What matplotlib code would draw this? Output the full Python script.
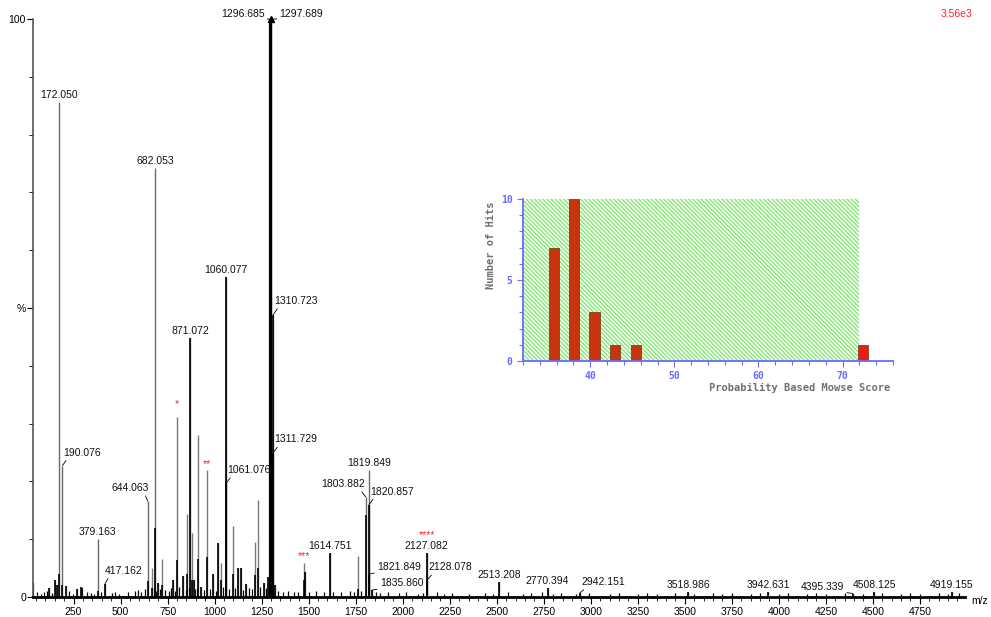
import matplotlib
matplotlib.use("Agg")
import matplotlib.pyplot as plt
from matplotlib.patches import Rectangle
from matplotlib.ticker import MultipleLocator, FixedLocator

plt.rcParams['font.family'] = ['Liberation Sans', 'DejaVu Sans']
plt.rcParams['hatch.linewidth'] = 1.2

# ---------------- spectrum data (m/z, relative intensity %) ----------------
label_mz = [172.050, 190.076, 379.163, 417.162, 644.063, 682.053, 871.072,
            1060.077, 1061.076, 1296.685, 1297.689, 1310.723, 1311.729,
            1614.751, 1803.882, 1819.849, 1820.857, 1821.849, 1835.860,
            2127.082, 2128.078, 2513.208, 2770.394, 2942.151, 3518.986,
            3942.631, 4395.339, 4508.125, 4919.155]
label_int = [85.6, 22.7, 10.0, 2.3, 16.6, 74.2, 44.8,
             55.3, 19.7, 100.0, 100.0, 48.8, 25.0,
             7.6, 17.3, 22.0, 16.0, 4.0, 1.2,
             7.6, 2.9, 2.6, 1.6, 0.7, 0.8,
             0.8, 0.6, 0.8, 0.8]
# intensity of the dark (dominant-trace) part of each labelled peak
label_core = [4.0, 2.0, 1.0, 2.3, 2.8, 12.0, 44.8,
              55.3, 19.7, 100.0, 100.0, 48.8, 25.0,
              7.6, 14.2, 3.0, 16.0, 4.0, 1.2,
              7.6, 2.9, 2.6, 1.6, 0.7, 0.8,
              0.8, 0.6, 0.8, 0.8]

other_mz = [36, 120, 149, 160, 208, 266, 287, 294, 666, 700, 721, 780, 799,
            833, 854, 877, 889, 911, 930, 959, 992, 1020, 1033, 1095, 1125,
            1139, 1169, 1214, 1229, 1263, 1285, 1320, 1474, 1481, 1761]
other_int = [2.4, 1.5, 2.9, 2.0, 1.9, 1.4, 1.7, 1.6, 5.0, 2.5, 6.5, 3.0, 31.1,
             3.6, 14.4, 11.0, 2.9, 28.0, 1.8, 22.0, 4.0, 9.3, 5.8, 12.3, 5.0,
             5.0, 2.3, 9.5, 16.7, 2.5, 3.5, 2.0, 5.9, 4.4, 7.1]
other_core = [2.4, 1.5, 2.9, 2.0, 1.9, 1.4, 1.7, 1.6, 1.5, 2.5, 2.0, 3.0, 6.4,
              3.6, 4.0, 3.0, 2.9, 6.5, 1.8, 7.0, 4.0, 9.3, 3.0, 4.0, 5.0,
              5.0, 2.3, 3.8, 5.0, 2.5, 3.5, 2.0, 3.0, 4.4, 1.4]

# low-level baseline peaks
noise = [(55, 0.8), (78, 0.6), (95, 0.9), (110, 1.0), (133, 0.7), (228, 1.0),
         (245, 0.6), (320, 0.8), (345, 0.7), (360, 0.6), (395, 0.9), (455, 0.7),
         (470, 0.9), (490, 0.6), (540, 0.8), (575, 1.0), (590, 1.2), (610, 0.9),
         (630, 1.3), (675, 1.6), (690, 1.1), (710, 1.4), (735, 1.2), (755, 1.0),
         (770, 1.5), (790, 1.1), (810, 1.8), (845, 1.2), (862, 1.5), (898, 1.3),
         (905, 1.6), (945, 1.2), (975, 1.4), (1005, 1.1), (1045, 1.7), (1075, 1.3),
         (1110, 1.5), (1150, 1.2), (1180, 1.6), (1200, 1.4), (1240, 1.8), (1272, 1.5),
         (1335, 1.1), (1365, 0.9), (1390, 1.0), (1420, 0.8), (1445, 0.9), (1500, 0.8),
         (1540, 1.0), (1580, 0.9), (1630, 0.8), (1670, 0.9), (1720, 1.0), (1740, 0.8),
         (1780, 1.1), (1860, 0.9), (1880, 0.7), (1920, 0.8), (1980, 0.7), (2020, 0.8),
         (2080, 0.6), (2110, 0.7), (2180, 0.8), (2220, 0.6), (2260, 0.7), (2350, 0.6),
         (2440, 0.7), (2480, 0.6), (2560, 0.8), (2640, 0.6), (2680, 0.7), (2740, 0.8),
         (2800, 0.6), (2840, 0.7), (2920, 0.6), (2990, 0.7), (3100, 0.6), (3150, 0.7),
         (3250, 0.6), (3300, 0.7), (3350, 0.6), (3450, 0.7), (3550, 0.6), (3650, 0.7),
         (3700, 0.6), (3750, 0.7), (3850, 0.6), (3900, 0.7), (4000, 0.6), (4050, 0.7),
         (4150, 0.6), (4200, 0.7), (4250, 0.6), (4350, 0.7), (4450, 0.6), (4550, 0.7),
         (4650, 0.6), (4700, 0.7), (4750, 0.6), (4850, 0.7), (4900, 0.6), (4960, 0.7)]

# starred peaks (m/z, label)
star_mz = [799, 959, 1474, 2127.082]
star_txt = ['*', '**', '***', '****']

x_ticks = [250, 500, 750, 1000, 1250, 1500, 1750, 2000, 2250, 2500, 2750,
           3000, 3250, 3500, 3750, 4000, 4250, 4500, 4750]

# ---------------- score histogram data ----------------
score_bins = [35.7, 38.1, 40.5, 42.9, 45.4, 72.4]
hits = [7, 10, 3, 1, 1, 1]
score_ticks = [40, 50, 60, 70]
hit_ticks = [0, 5, 10]

# ---------------- figure ----------------
W, H = 991, 617
fig = plt.figure(figsize=(W / 100, H / 100), dpi=100)
ax = fig.add_axes([33 / W, 20 / H, (965 - 33) / W, 578 / H])
ax.set_xlim(34, 4990)
ax.set_ylim(0, 100)

for s in ('top', 'right'):
    ax.spines[s].set_visible(False)
ax.spines['left'].set_color('#555555')
ax.spines['left'].set_linewidth(1.2)
ax.spines['bottom'].set_linewidth(2.0)

noise_mz = [p[0] for p in noise]
noise_h = [p[1] for p in noise]
ax.vlines(noise_mz, 0, noise_h, color='black', lw=0.9)

# full peaks in grey, dominant trace in black
ax.vlines(other_mz, 0, other_int, color='#7a7a7a', lw=1.0)
ax.vlines(label_mz, 0, label_int, color='#6a6a6a', lw=1.0)
ax.vlines(other_mz, 0, other_core, color='black', lw=1.2)
ax.vlines(label_mz, 0, label_core, color='black', lw=1.2)
# base peak drawn heavier with apex marker
ax.vlines([label_mz[9], label_mz[10]], 0, [label_int[9], label_int[10]], color='black', lw=1.6)
ax.plot([label_mz[9] + 0.5], [label_int[9]], marker='^', ms=5, color='black', clip_on=False)

# peak labels: (ha, dx px, dy px, leader)
label_style = {
    172.050: ('center', 0, 2, False),
    190.076: ('left', 1, 8, True),
    379.163: ('center', 0, 2, False),
    417.162: ('left', 0, 8, True),
    644.063: ('right', 1, 8, True),
    682.053: ('center', 0, 2, False),
    871.072: ('center', 0, 2, False),
    1060.077: ('center', 0, 2, False),
    1061.076: ('left', 1, 8, True),
    1296.685: ('right', -6, 0, True),
    1297.689: ('left', 9, 0, True),
    1310.723: ('left', 1, 9, True),
    1311.729: ('left', 1, 8, True),
    1614.751: ('center', 0, 2, False),
    1803.882: ('right', -1, 8, True),
    1819.849: ('center', 0, 2, False),
    1820.857: ('left', 1, 8, True),
    1821.849: ('left', 8, 2, True),
    1835.860: ('left', 8, 2, True),
    2127.082: ('center', 0, 2, False),
    2128.078: ('left', 2, 8, True),
    2513.208: ('center', 0, 2, False),
    2770.394: ('center', 0, 2, False),
    2942.151: ('left', 2, 6, True),
    3518.986: ('center', 0, 2, False),
    3942.631: ('center', 0, 2, False),
    4395.339: ('right', -9, 2, True),
    4508.125: ('center', 0, 2, False),
    4919.155: ('center', 0, 2, False),
}

for mz, inten in zip(label_mz, label_int):
    ha, dx, dy, leader = label_style[mz]
    kw = {}
    if leader:
        rx = {'left': 0.12, 'right': 0.88, 'center': 0.5}[ha]
        kw['arrowprops'] = dict(arrowstyle='-', lw=0.6, color='black',
                                shrinkA=0, shrinkB=0, relpos=(rx, 0.0))
    ax.annotate(f'{mz:.3f}', xy=(mz, inten), xytext=(dx, dy),
                textcoords='offset pixels', ha=ha, va='bottom', fontsize=7.5,
                color='#111111', annotation_clip=False, **kw)

star_dy = {799: 8, 959: 1, 1474: 2, 2127.082: 13}
all_mz = label_mz + other_mz
all_int = label_int + other_int
for mz, txt in zip(star_mz, star_txt):
    h = all_int[all_mz.index(mz)]
    ax.annotate(txt, xy=(mz, h), xytext=(0, star_dy[mz]), textcoords='offset pixels',
                ha='center', va='bottom', fontsize=7.5, color='#ff2020',
                annotation_clip=False)

# axes ticks
ax.xaxis.set_major_locator(FixedLocator(x_ticks))
ax.xaxis.set_minor_locator(MultipleLocator(50))
ax.tick_params(axis='x', which='major', length=5, width=0.8, labelsize=7.5, pad=2)
ax.tick_params(axis='x', which='minor', length=3, width=0.6)
ax.yaxis.set_major_locator(FixedLocator([0, 50, 100]))
ax.yaxis.set_minor_locator(MultipleLocator(10))
ax.set_yticklabels(['0', '%', '100'])
ax.tick_params(axis='y', which='major', length=4, width=0.8, labelsize=7.5, pad=1)
ax.tick_params(axis='y', which='minor', length=3, width=0.6)

fig.text(971 / W, 1 - 601 / H, 'm/z', ha='left', va='center', fontsize=7.5)
fig.text(957 / W, 1 - 14 / H, '3.56e3', ha='center', va='center', fontsize=7.5, color='#ff2020')

# ---------------- score histogram inset ----------------
blue = '#6b6bff'
ins = fig.add_axes([523 / W, 256 / H, 370 / W, 162 / H])
ins.set_xlim(32, 76)
ins.set_ylim(0, 10)
ins.set_facecolor('none')
ins.add_patch(Rectangle((32, 0), 40, 10, facecolor='#86e278', edgecolor='none', zorder=1))
ins.add_patch(Rectangle((32, 0), 40, 10, fill=False, edgecolor='#f4fff0', hatch='\\' * 8,
                        lw=0.01, zorder=1.1))
colors = ['#c8340e'] * (len(hits) - 1) + ['#ee1a14']
ins.bar(score_bins, hits, width=1.2, color=colors, edgecolor='#7a4418', lw=0.6, zorder=2)
for s in ('top', 'right'):
    ins.spines[s].set_visible(False)
for s in ('left', 'bottom'):
    ins.spines[s].set_color(blue)
    ins.spines[s].set_linewidth(1.3)
ins.xaxis.set_major_locator(FixedLocator(score_ticks))
ins.xaxis.set_minor_locator(MultipleLocator(2))
ins.yaxis.set_major_locator(FixedLocator(hit_ticks))
ins.yaxis.set_minor_locator(MultipleLocator(1))
ins.tick_params(which='both', colors=blue, labelcolor=blue, width=0.8)
ins.tick_params(which='major', length=4, labelsize=7)
ins.tick_params(which='minor', length=3)
for lab in ins.get_xticklabels() + ins.get_yticklabels():
    lab.set_family('DejaVu Sans Mono')
    lab.set_weight('bold')

fig.text(491 / W, 1 - 245 / H, 'Number of Hits', rotation=90, ha='center', va='center',
         fontsize=7.5, color='#707070', family='DejaVu Sans Mono', weight='bold')
fig.text(890 / W, 1 - 388 / H, 'Probability Based Mowse Score', ha='right', va='center',
         fontsize=7.5, color='#707070', family='DejaVu Sans Mono', weight='bold')

fig.savefig('out.png', dpi=100)
